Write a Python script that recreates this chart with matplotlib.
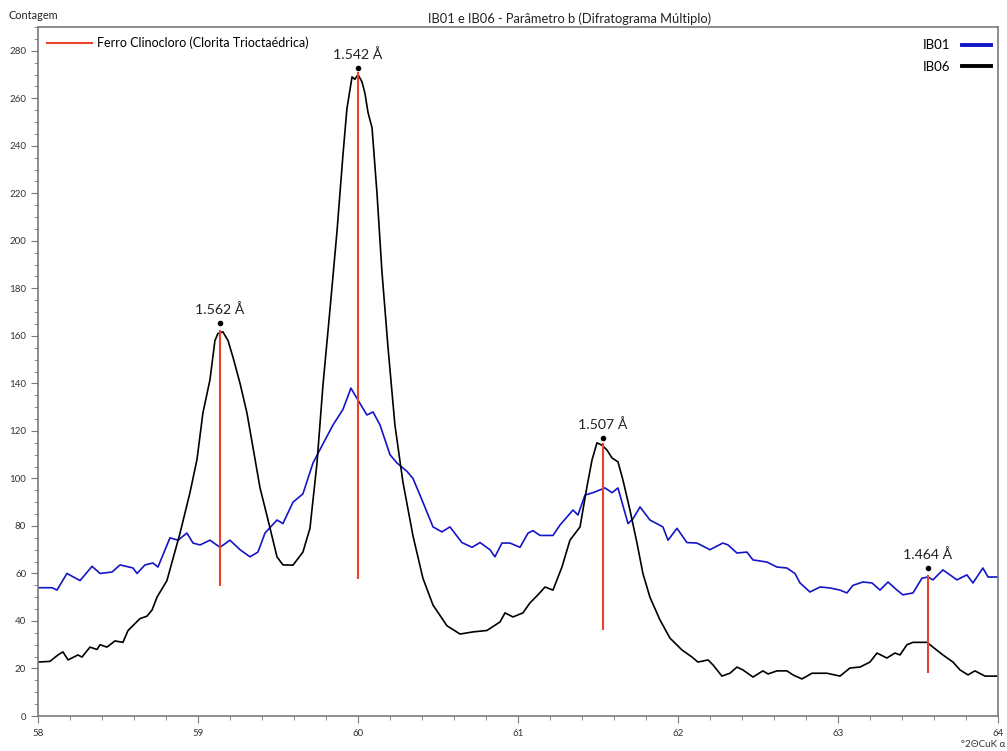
import matplotlib
import matplotlib.pyplot as plt
from matplotlib.lines import Line2D
from matplotlib.ticker import MultipleLocator
import numpy as np

plt.switch_backend('agg')
plt.rcParams['font.family'] = ['Lato', 'DejaVu Sans']

# IB06 (preto)
ib06_x = [58.000, 58.075, 58.125, 58.156, 58.188, 58.250, 58.275, 58.325, 58.369, 58.388,
          58.431, 58.481, 58.531, 58.563, 58.638, 58.681, 58.713, 58.744, 58.806, 58.888,
          58.950, 58.994, 59.031, 59.075, 59.106, 59.125, 59.156, 59.188, 59.219, 59.263,
          59.306, 59.344, 59.388, 59.438, 59.494, 59.531, 59.594, 59.656, 59.700, 59.744,
          59.781, 59.825, 59.869, 59.906, 59.931, 59.963, 59.981, 60.000, 60.025, 60.044,
          60.063, 60.088, 60.119, 60.150, 60.188, 60.231, 60.281, 60.344, 60.406, 60.469,
          60.556, 60.638, 60.719, 60.806, 60.888, 60.919, 60.969, 61.031, 61.075, 61.125,
          61.169, 61.219, 61.275, 61.325, 61.388, 61.431, 61.463, 61.494, 61.525, 61.556,
          61.588, 61.625, 61.656, 61.700, 61.744, 61.781, 61.825, 61.888, 61.950, 62.025,
          62.088, 62.125, 62.188, 62.219, 62.275, 62.325, 62.369, 62.406, 62.469, 62.531,
          62.563, 62.619, 62.681, 62.719, 62.775, 62.838, 62.931, 63.013, 63.075, 63.138,
          63.200, 63.244, 63.306, 63.356, 63.388, 63.431, 63.469, 63.556, 63.594, 63.656,
          63.719, 63.763, 63.813, 63.856, 63.919, 64.000]
ib06_y = [22.7, 23.0, 25.7, 27.0, 23.6, 25.7, 24.8, 29.0, 28.0, 30.0,
          29.0, 31.6, 31.0, 36.0, 41.0, 42.0, 44.6, 50.0, 57.0, 77.0,
          94.0, 108.0, 127.6, 141.5, 158.0, 161.0, 161.7, 158.0, 151.0, 140.0,
          127.6, 113.0, 96.0, 82.5, 67.0, 63.6, 63.5, 69.0, 79.0, 106.5,
          139.0, 171.0, 204.0, 236.0, 255.6, 269.0, 268.0, 270.0, 267.0, 262.0,
          254.0, 247.6, 220.0, 187.0, 155.0, 122.5, 98.5, 75.8, 58.0, 46.7,
          38.0, 34.5, 35.4, 36.0, 39.6, 43.4, 41.7, 43.4, 47.6, 51.0,
          54.3, 53.0, 62.7, 74.0, 79.6, 96.4, 107.8, 115.0, 114.0, 112.0,
          108.6, 107.0, 99.4, 86.7, 72.8, 60.0, 50.0, 40.4, 32.8, 27.8,
          24.8, 22.7, 23.6, 21.5, 16.8, 18.0, 20.6, 19.4, 16.4, 19.0,
          17.7, 19.0, 19.0, 17.3, 15.6, 18.0, 18.0, 16.8, 20.2, 20.6,
          22.7, 26.5, 24.4, 26.5, 25.7, 30.0, 31.0, 31.0, 29.0, 25.7,
          22.7, 19.4, 17.3, 19.0, 16.8, 16.8]

# IB01 (azul)
ib01_x = [58.000, 58.088, 58.119, 58.181, 58.263, 58.338, 58.388, 58.463, 58.513, 58.594,
          58.619, 58.669, 58.719, 58.750, 58.825, 58.875, 58.931, 58.969, 59.013, 59.075,
          59.138, 59.200, 59.263, 59.325, 59.375, 59.419, 59.494, 59.531, 59.594, 59.656,
          59.719, 59.781, 59.844, 59.906, 59.956, 60.000, 60.056, 60.094, 60.138, 60.200,
          60.244, 60.306, 60.344, 60.406, 60.469, 60.525, 60.575, 60.650, 60.713, 60.763,
          60.825, 60.856, 60.900, 60.950, 61.013, 61.063, 61.094, 61.138, 61.219, 61.263,
          61.344, 61.375, 61.419, 61.469, 61.544, 61.588, 61.625, 61.688, 61.719, 61.763,
          61.825, 61.906, 61.938, 61.994, 62.056, 62.119, 62.200, 62.281, 62.313, 62.369,
          62.431, 62.469, 62.556, 62.619, 62.681, 62.731, 62.763, 62.825, 62.888, 62.950,
          63.013, 63.056, 63.094, 63.156, 63.213, 63.263, 63.313, 63.369, 63.406, 63.469,
          63.525, 63.563, 63.594, 63.656, 63.700, 63.744, 63.806, 63.844, 63.906, 63.938,
          64.000]
ib01_y = [54.0, 54.0, 53.0, 60.0, 57.0, 63.0, 60.0, 60.6, 63.6, 62.3,
          60.0, 63.6, 64.4, 62.7, 75.0, 74.0, 77.0, 72.8, 72.0, 74.0,
          71.0, 74.0, 70.0, 67.0, 69.0, 77.0, 82.5, 81.0, 90.0, 93.5,
          106.5, 114.5, 122.5, 129.0, 138.0, 133.0, 126.7, 128.0, 122.5, 110.0,
          106.5, 103.0, 100.0, 90.0, 79.6, 77.5, 79.6, 73.0, 71.0, 73.0,
          70.0, 67.0, 72.8, 72.8, 71.0, 77.0, 78.0, 76.0, 76.0, 80.4,
          86.7, 84.6, 93.0, 94.0, 96.0, 94.0, 96.0, 81.0, 83.0, 88.0,
          82.5, 79.6, 74.0, 79.0, 73.0, 72.8, 70.0, 72.8, 72.0, 68.6,
          69.0, 65.7, 64.8, 62.7, 62.3, 60.0, 56.0, 52.2, 54.3, 53.9,
          53.0, 51.8, 55.0, 56.4, 56.0, 53.0, 56.4, 53.0, 51.0, 51.8,
          58.0, 58.5, 57.3, 61.5, 59.4, 57.3, 59.4, 56.0, 62.3, 58.5,
          58.5]

# picos de referencia (Ferro Clinocloro)
pico_x = [59.138, 60.000, 61.530, 63.560]
pico_base = [54.7, 57.5, 36.0, 18.0]
pico_topo = [162.5, 271.0, 115.0, 59.4]
ponto_y = [165.5, 272.8, 117.0, 62.3]
pico_rotulo = ['1.562 Å', '1.542 Å', '1.507 Å', '1.464 Å']

azul = '#1414c8'
vermelho = '#e8432c'
cinza = '#7a7a7a'

fig = plt.figure(figsize=(10.07, 7.51), dpi=100)
ax = fig.add_axes([0.0377, 0.0466, 0.9533, 0.9174])

ax.plot(ib01_x, ib01_y, color=azul, lw=1.2)
ax.plot(ib06_x, ib06_y, color='black', lw=1.2)
ax.vlines(pico_x, pico_base, pico_topo, color=vermelho, lw=1.5)
ax.plot(pico_x, ponto_y, 'o', color='black', ms=3)
for x, y, t in zip(pico_x, ponto_y, pico_rotulo):
    ax.annotate(t, (x, y), xytext=(0, 5), textcoords='offset points',
                ha='center', va='bottom', fontsize=10.2, color='#222222')

ax.set_xlim(58, 64)
ax.set_ylim(0, 290)
ax.xaxis.set_major_locator(MultipleLocator(1))
ax.xaxis.set_minor_locator(MultipleLocator(0.2))
ax.yaxis.set_major_locator(MultipleLocator(20))
ax.yaxis.set_minor_locator(MultipleLocator(5))
ax.tick_params(which='both', direction='out', color=cinza, labelsize=7,
               labelcolor='#333333')
ax.tick_params(which='major', length=5)
ax.tick_params(which='minor', length=3)
ax.tick_params(axis='x', pad=4)
for s in ax.spines.values():
    s.set_color(cinza)
    s.set_linewidth(1.2)

leg1 = ax.legend([Line2D([], [], color=vermelho, lw=1.5)],
                 ['Ferro Clinocloro (Clorita Trioctaédrica)'],
                 loc='upper left', frameon=False, fontsize=9,
                 handlelength=3.6, borderaxespad=0.35, handletextpad=0.4)
ax.add_artist(leg1)
ax.legend([Line2D([], [], color=azul, lw=2.8), Line2D([], [], color='black', lw=2.8)],
          ['IB01', 'IB06'], loc='upper right', frameon=False, fontsize=9.5,
          markerfirst=False, handlelength=2.2, borderaxespad=0.1, handletextpad=0.9,
          labelspacing=0.75, bbox_to_anchor=(1.0, 0.992))

fig.text(0.566, 0.975, 'IB01 e IB06 - Parâmetro b (Difratograma Múltiplo)',
         ha='center', va='center', fontsize=9.3, color='#222222')
fig.text(0.008, 0.979, 'Contagem', ha='left', va='center', fontsize=7.8, color='#222222')
fig.text(0.998, 0.002, '°2ΘCuK α', ha='right', va='bottom', fontsize=7,
         color='#333333', family=['Lato', 'DejaVu Sans'])

fig.savefig('out.png', dpi=100)
